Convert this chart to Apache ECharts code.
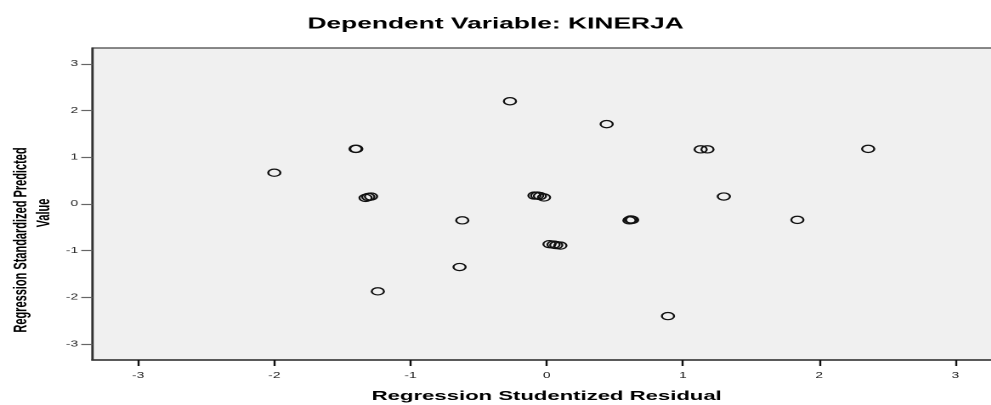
<!DOCTYPE html>
<html>
<head>
<meta charset="utf-8">
<script src="https://cdn.jsdelivr.net/npm/echarts@6/dist/echarts.min.js"></script>
<style>
html,body{margin:0;padding:0;background:#fff;overflow:hidden;width:991px;height:405px;}
#chart{width:583px;height:405px;transform:scaleX(1.7);transform-origin:0 0;}
</style>
</head>
<body>
<div id="chart"></div>
<script>
// Regression Studentized Residual (x) and Regression Standardized Predicted Value (y)
const residual = [-2.00, -1.404, -1.398, -1.33, -1.31, -1.29, -1.24, -0.64, -0.62, -0.27,
  -0.09, -0.07, -0.05, -0.02, 0.02, 0.05, 0.07, 0.10, 0.44, 0.607, 0.617, 0.627,
  0.89, 1.13, 1.18, 1.30, 1.84, 2.36];
const predicted = [0.67, 1.18, 1.18, 0.13, 0.15, 0.16, -1.87, -1.35, -0.35, 2.20,
  0.18, 0.18, 0.17, 0.14, -0.86, -0.87, -0.88, -0.89, 1.71, -0.35, -0.33, -0.34,
  -2.40, 1.17, 1.17, 0.16, -0.34, 1.18];
const xTicks = [-3, -2, -1, 0, 1, 2, 3];
const yTicks = [-3, -2, -1, 0, 1, 2, 3];
const titleText = 'Dependent Variable: KINERJA';
const xTitle = 'Regression Studentized Residual';
const yTitle1 = 'Regression Standardized Predicted';
const yTitle2 = 'Value';

const points = residual.map((r, i) => [r, predicted[i]]);
const chart = echarts.init(document.getElementById('chart'), null, {devicePixelRatio: 2});
const FONT = 'Liberation Sans, Arial, sans-serif';
chart.setOption({
  animation: false,
  backgroundColor: '#ffffff',
  title: {
    text: titleText, left: 'center', top: 11,
    textStyle: {fontFamily: FONT, fontWeight: 'bold', fontSize: 15.5, color: '#000'}
  },
  grid: {
    left: 54.3, top: 48, width: 534.6, height: 312,
    outerBoundsMode: 'none', containLabel: false,
    show: true, backgroundColor: '#f0f0f0', borderColor: '#444', borderWidth: 1.2
  },
  xAxis: {
    type: 'value', min: -3.336, max: 3.336,
    splitLine: {show: false},
    axisLine: {show: true, onZero: false, lineStyle: {color: '#333', width: 1.5}},
    axisTick: {show: true, customValues: xTicks, length: 6, lineStyle: {color: '#111', width: 1.2}},
    axisLabel: {customValues: xTicks, margin: 12, fontSize: 8, fontFamily: FONT, color: '#222'},
    name: xTitle, nameLocation: 'middle', nameGap: 30,
    nameTextStyle: {fontFamily: FONT, fontWeight: 'bold', fontSize: 13, color: '#000'}
  },
  yAxis: {
    type: 'value', min: -3.34, max: 3.34,
    splitLine: {show: false},
    axisLine: {show: true, onZero: false, lineStyle: {color: '#333', width: 1.2}},
    axisTick: {show: true, customValues: yTicks, length: 6.5, lineStyle: {color: '#666', width: 1.2}},
    axisLabel: {customValues: yTicks, margin: 8.4, fontSize: 8, fontFamily: FONT, color: '#222'}
  },
  graphic: [
    {type: 'text', x: 12.4, y: 240, rotation: Math.PI / 2,
     style: {text: yTitle1, font: 'bold 11px ' + FONT, fill: '#000', align: 'center', verticalAlign: 'middle'}},
    {type: 'text', x: 26.2, y: 213, rotation: Math.PI / 2,
     style: {text: yTitle2, font: 'bold 11px ' + FONT, fill: '#000', align: 'center', verticalAlign: 'middle'}}
  ],
  series: [{
    type: 'scatter', data: points, symbol: 'circle', symbolSize: 7.2,
    itemStyle: {color: 'rgba(0,0,0,0)', borderColor: '#111', borderWidth: 1.2, opacity: 1},
    emphasis: {disabled: true}
  }]
});
</script>
</body>
</html>
